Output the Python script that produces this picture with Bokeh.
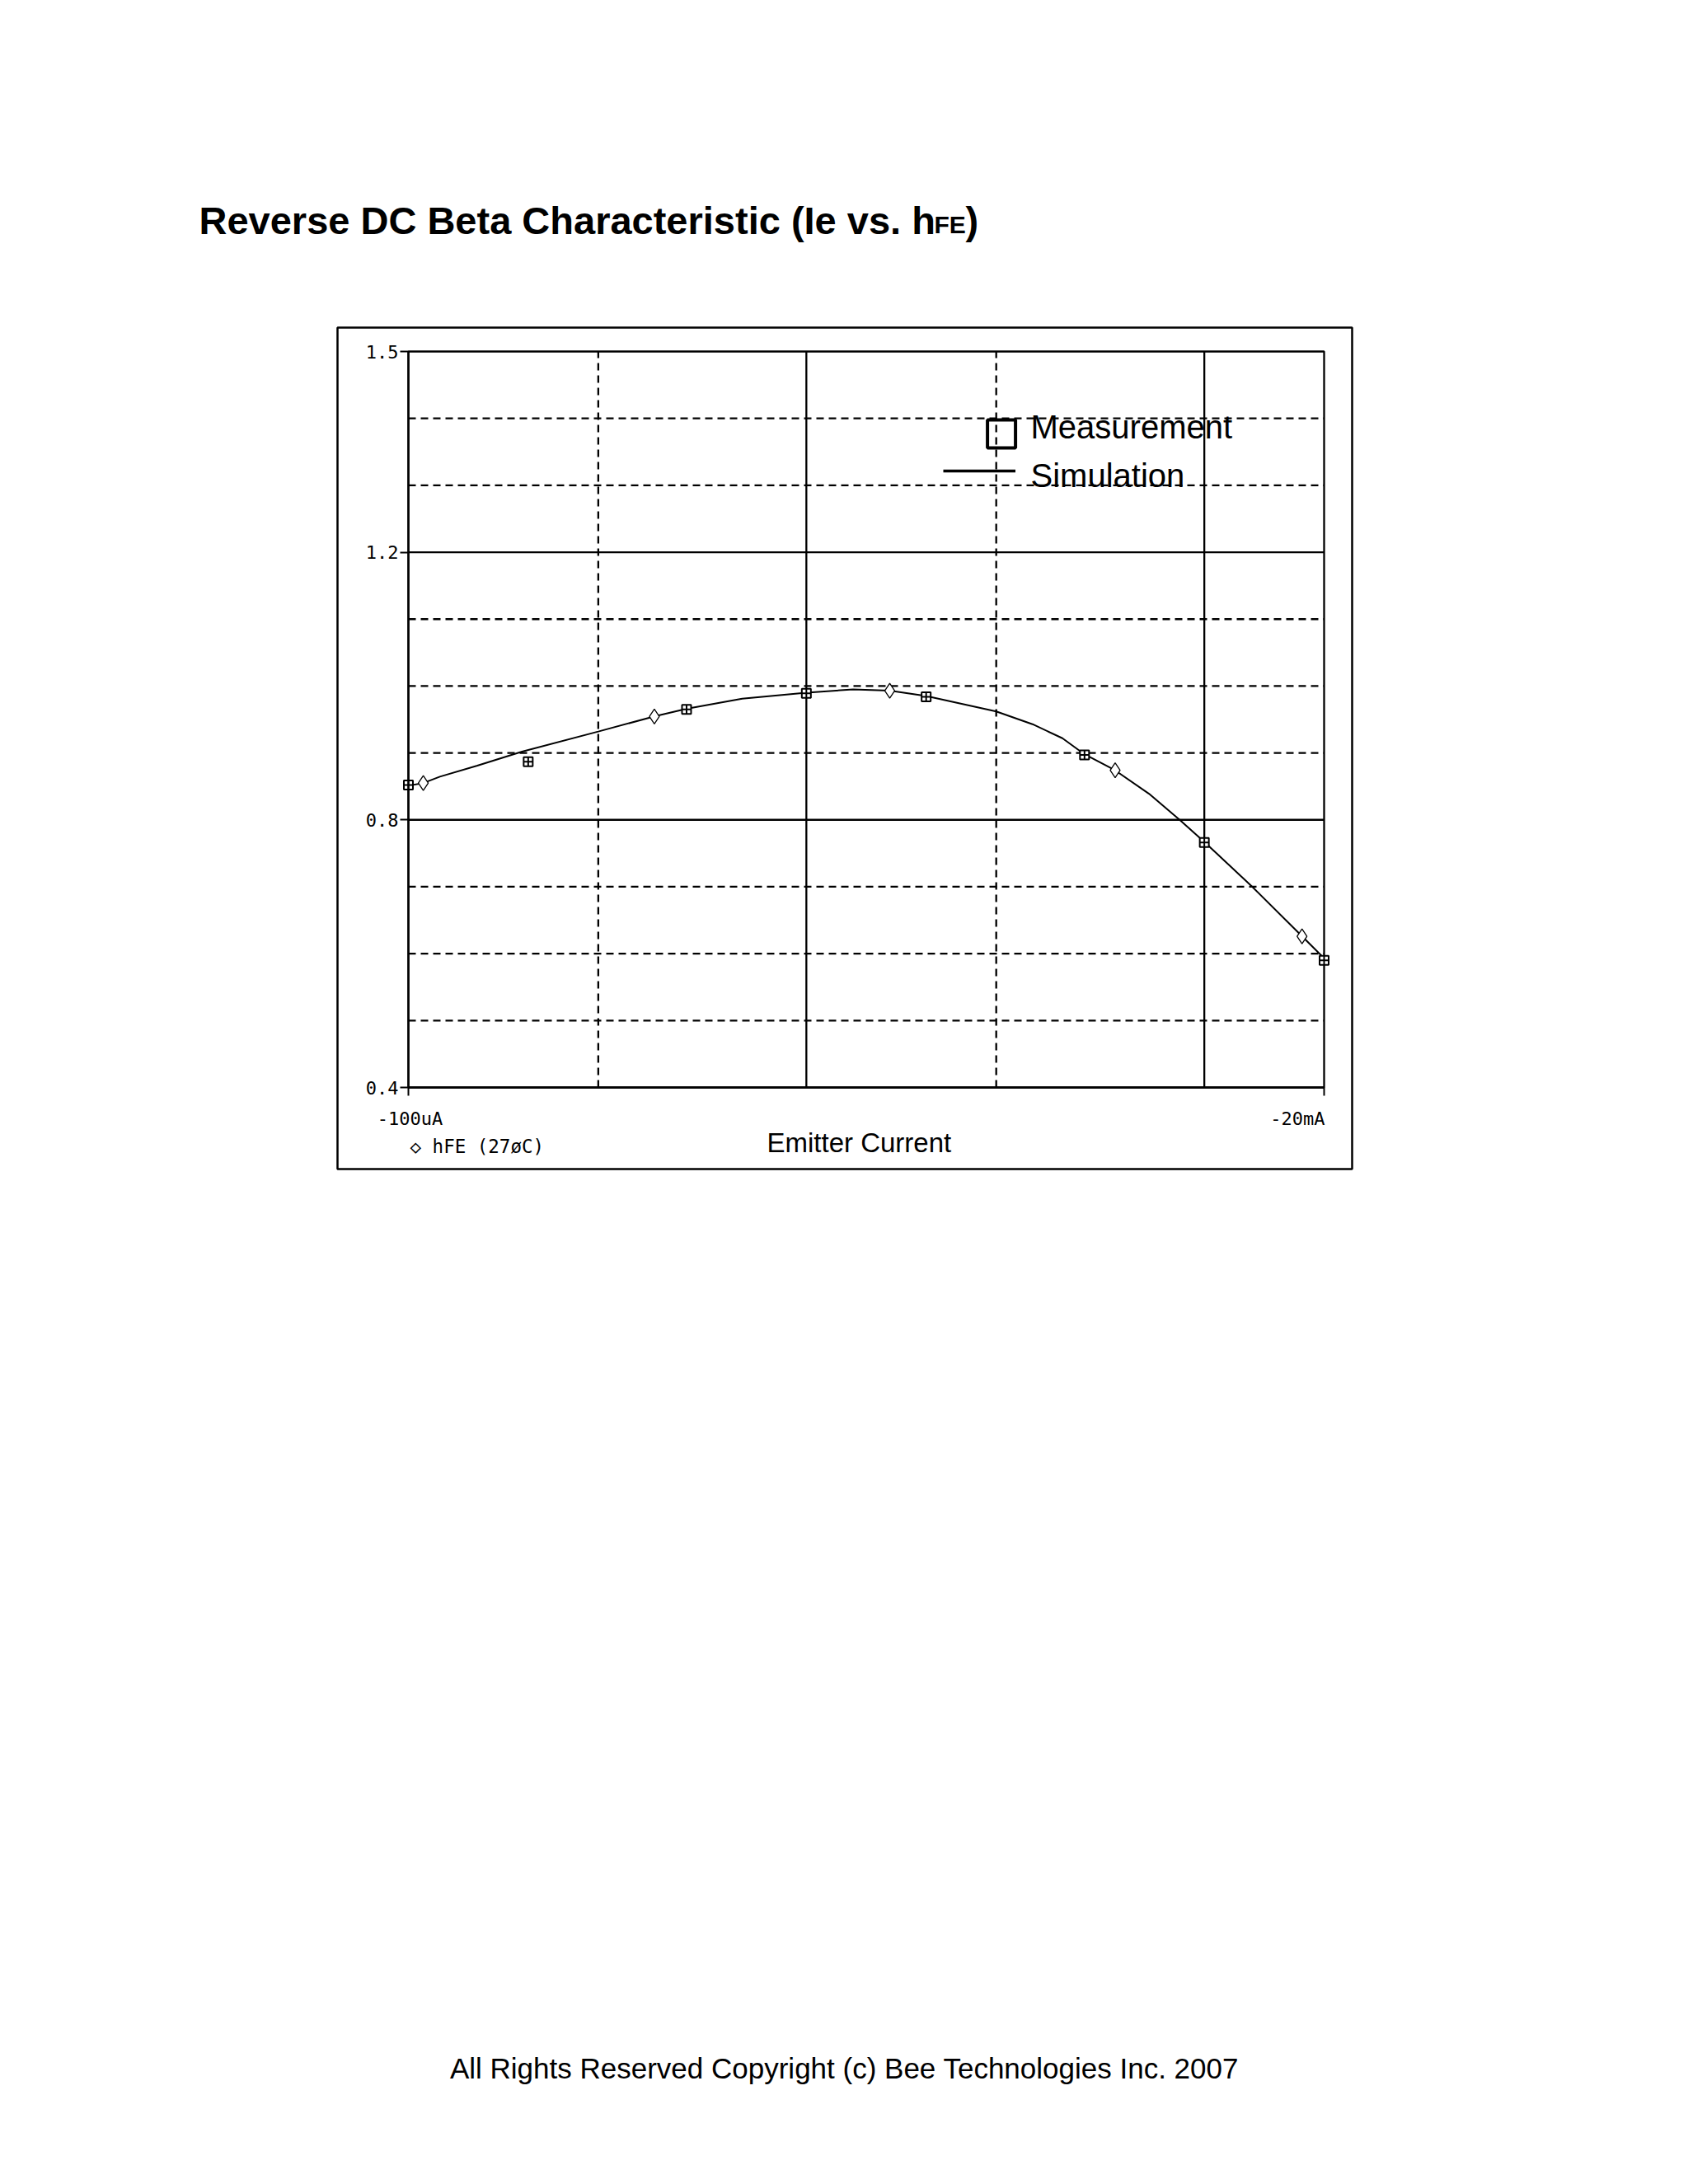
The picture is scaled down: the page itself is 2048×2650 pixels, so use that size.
import math
from bokeh.plotting import figure
from bokeh.models import (Range1d, LinearScale, FixedTicker, Label,
                          LinearAxis, LogAxis)
from bokeh.embed import file_html
from bokeh.resources import INLINE

# ---------------- data ----------------
meas_ie = [1e-4, 2e-4, 5e-4, 1e-3, 2e-3, 5e-3, 1e-2, 2e-2]
meas_hfe = [0.852, 0.887, 0.965, 0.989, 0.984, 0.897, 0.766, 0.590]

sim_ie = [1.00e-4, 1.09e-4, 1.20e-4, 1.49e-4, 1.93e-4, 3.0e-4, 4.15e-4, 5.0e-4,
          6.9e-4, 1.0e-3, 1.31e-3, 1.62e-3, 2.0e-3, 3.0e-3, 3.7e-3, 4.4e-3,
          5.0e-3, 5.97e-3, 7.26e-3, 8.67e-3, 1.0e-2, 1.32e-2, 1.76e-2, 2.0e-2]
sim_hfe = [0.851, 0.855, 0.8645, 0.881, 0.902, 0.932, 0.9546, 0.966,
           0.981, 0.990, 0.995, 0.993, 0.985, 0.962, 0.943, 0.922,
           0.898, 0.874, 0.839, 0.800, 0.767, 0.700, 0.626, 0.593]

marker_ie = [1.09e-4, 4.15e-4, 1.62e-3, 5.97e-3, 1.76e-2]
marker_hfe = [0.855, 0.9546, 0.993, 0.874, 0.626]

x_limits = [1e-4, 2e-2]
y_limits = [0.4, 1.5]
y_ticks = [0.4, 0.8, 1.2, 1.5]
y_grid_solid = [0.8, 1.2]
y_grid_dashed = [0.5, 0.6, 0.7, 0.9, 1.0, 1.1, 1.3, 1.4]
x_grid_solid = [1e-3, 1e-2]
x_grid_dashed = [3e-4, 3e-3]
x_tick_labels = ["-100uA", "-20mA"]

title_main = "Reverse DC Beta Characteristic (Ie vs. h"
title_sub = "FE"
title_end = ")"
legend_labels = ["Measurement", "Simulation"]
x_title = "Emitter Current"
trace_label = "\u25c7 hFE (27\u00f8C)"
copyright_text = "All Rights Reserved Copyright (c) Bee Technologies Inc. 2007"

# ---------------- page geometry (pixels) ----------------
W, H = 2048, 2650
PL, PR, PT, PB = 495, 1606, 426, 1319      # plot area on the page

# data ranges chosen so that the plot area lands at PL..PR / PT..PB
k = (math.log10(x_limits[1]) - math.log10(x_limits[0])) / (PR - PL)
x_start = 10 ** (math.log10(x_limits[0]) - PL * k)
x_end = 10 ** (math.log10(x_limits[1]) + (W - PR) * k)
m = (y_limits[1] - y_limits[0]) / (PB - PT)
y_start = y_limits[0] - (H - PB) * m
y_end = y_limits[1] + PT * m

p = figure(width=W, height=H, x_axis_type="log",
           x_range=Range1d(x_start, x_end), y_range=Range1d(y_start, y_end),
           x_axis_location=None, y_axis_location=None,
           output_backend="svg", toolbar_location=None, min_border=0)
p.background_fill_color = "white"
p.border_fill_color = "white"
p.outline_line_color = None
p.grid.visible = False

p.extra_x_ranges = {"px": Range1d(0, W)}
p.extra_y_ranges = {"px": Range1d(H, 0)}
p.extra_x_scales = {"px": LinearScale()}
p.extra_y_scales = {"px": LinearScale()}

# outer frame
p.quad(left=[409], right=[1640], top=[397], bottom=[1418],
       x_range_name="px", y_range_name="px",
       fill_color=None, line_color="black", line_width=2.5)

# grid lines
def vgrid(xs, dash):
    p.segment(x0=xs, y0=[y_limits[0]] * len(xs), x1=xs, y1=[y_limits[1]] * len(xs),
              line_color="black", line_width=2.3, line_dash=dash)

def hgrid(ys, dash):
    p.segment(x0=[x_limits[0]] * len(ys), y0=ys, x1=[x_limits[1]] * len(ys), y1=ys,
              line_color="black", line_width=2.3, line_dash=dash)

vgrid(x_grid_solid, "solid")
vgrid(x_grid_dashed, "9 6")
hgrid(y_grid_solid, "solid")
hgrid(y_grid_dashed, "9 6")

# plot box
p.quad(left=[x_limits[0]], right=[x_limits[1]], bottom=[y_limits[0]], top=[y_limits[1]],
       fill_color=None, line_color="black", line_width=2.3)

# data
p.line(sim_ie, sim_hfe, line_color="black", line_width=2)
p.scatter(marker_ie, marker_hfe, marker="diamond", size=18,
          fill_color="white", line_color="black", line_width=1.3)
p.scatter(meas_ie, meas_hfe, marker="square_cross", size=11,
          fill_color="white", line_color="black", line_width=2)

# axes
yax = LinearAxis(fixed_location=x_limits[0], bounds=(y_limits[0], y_limits[1]),
                 ticker=FixedTicker(ticks=y_ticks))
yax.major_label_text_font = "DejaVu Sans Mono"
yax.major_label_text_font_size = "22px"
yax.major_label_text_color = "black"
yax.major_label_standoff = 2
yax.major_tick_out = 10
yax.major_tick_in = 0
yax.minor_tick_out = 0
yax.minor_tick_in = 0
yax.axis_line_width = 2.3
yax.major_tick_line_width = 2
p.add_layout(yax, "left")

xax = LogAxis(fixed_location=y_limits[0], bounds=(x_limits[0], x_limits[1]),
              ticker=FixedTicker(ticks=x_limits))
xax.major_label_overrides = {x_limits[0]: "", x_limits[1]: ""}
xax.major_tick_out = 10
xax.major_tick_in = 0
xax.minor_tick_out = 0
xax.minor_tick_in = 0
xax.axis_line_width = 2.3
xax.major_tick_line_width = 2
p.add_layout(xax, "below")

# legend symbols
p.scatter(x=[1214.6], y=[526], x_range_name="px", y_range_name="px",
          marker="square", size=34, fill_color=None, line_color="black", line_width=4)
p.segment(x0=[1144], y0=[571], x1=[1231.5], y1=[571],
          x_range_name="px", y_range_name="px", line_color="black", line_width=3.5)


def lab(text, x, y, size, align="left", font="Liberation Sans", style="normal"):
    p.add_layout(Label(x=x, y=y, x_range_name="px", y_range_name="px",
                       text=text, text_font=font, text_font_size=f"{size}px",
                       text_align=align, text_baseline="alphabetic",
                       text_font_style=style, text_color="black"))


lab(title_main, 241, 267, 47, style="bold")
lab(title_sub, 1133, 272, 30, style="bold")
lab(title_end, 1171, 267, 47, style="bold")
lab(legend_labels[0], 1250, 517, 40)
lab(legend_labels[1], 1250, 576, 40)
lab(x_title, 930, 1386, 33)
lab(x_tick_labels[0], 497, 1357, 22, align="center", font="DejaVu Sans Mono")
lab(x_tick_labels[1], 1607, 1357, 22, align="right", font="DejaVu Sans Mono")
lab(trace_label, 497, 1390, 22.5, font="DejaVu Sans Mono")
lab(copyright_text, 1024, 2509, 35, align="center")

open("out.html", "w").write(file_html(p, INLINE))
